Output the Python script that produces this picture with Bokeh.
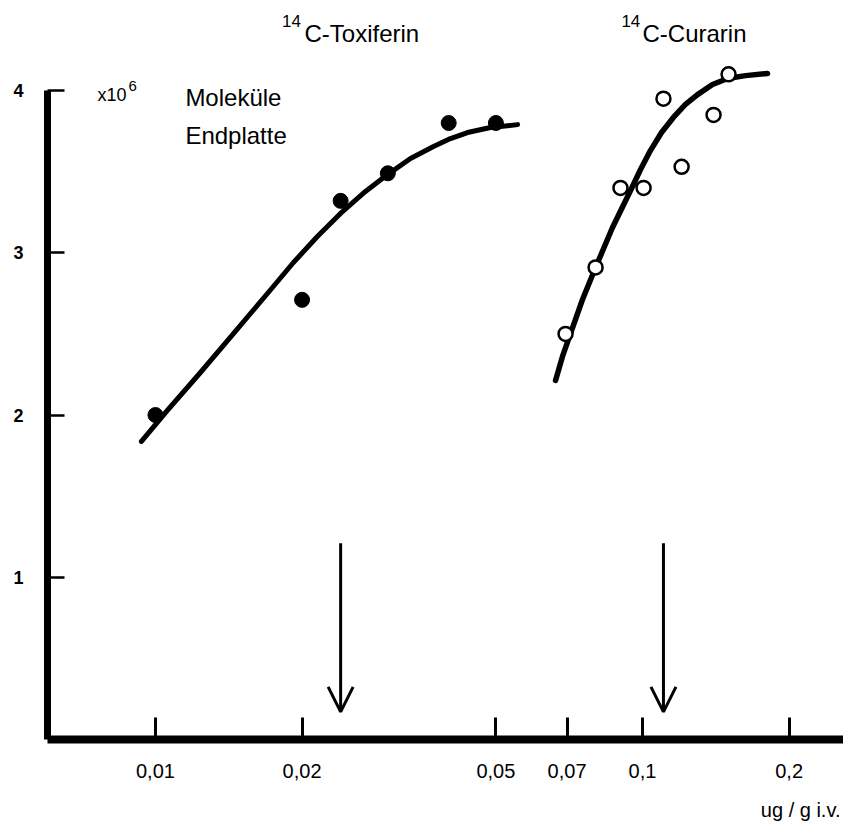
from bokeh.plotting import figure
from bokeh.models import Range1d, FixedTicker, ColumnDataSource, Arrow, OpenHead, Title
from bokeh.embed import file_html
from bokeh.resources import INLINE
from bokeh.core.properties import value

# ---- data ----
tox_dose = [0.01, 0.02, 0.024, 0.03, 0.04, 0.05]
tox_mol = [2.00, 2.71, 3.32, 3.49, 3.80, 3.80]

cur_dose = [0.0695, 0.0801, 0.0901, 0.1005, 0.1104, 0.1203, 0.1399, 0.1502]
cur_mol = [2.50, 2.91, 3.40, 3.40, 3.95, 3.53, 3.85, 4.10]

tox_curve_dose = [0.00936, 0.01058, 0.01237, 0.01446, 0.01698, 0.0192, 0.0215,
                  0.02421, 0.02699, 0.02995, 0.03339, 0.03723, 0.04034,
                  0.04372, 0.04874, 0.0554]
tox_curve_mol = [1.837, 2.028, 2.262, 2.502, 2.749, 2.940, 3.100,
                 3.254, 3.378, 3.482, 3.581, 3.655, 3.704,
                 3.741, 3.772, 3.790]

cur_curve_dose = [0.06628, 0.0685, 0.07114, 0.0753, 0.08009, 0.08677, 0.09449,
                  0.09906, 0.1038, 0.1094, 0.1157, 0.1225, 0.1297, 0.1392,
                  0.1495, 0.1627, 0.1806]
cur_curve_mol = [2.213, 2.361, 2.502, 2.712, 2.909, 3.156, 3.384,
                 3.513, 3.630, 3.741, 3.834, 3.914, 3.975, 4.037,
                 4.074, 4.092, 4.105]

arrow_dose = [0.0240, 0.1104]
arrow_top = [1.21, 1.21]
arrow_tip = [0.17, 0.17]

x_ticks = [0.01, 0.02, 0.05, 0.07, 0.1, 0.2]
x_tick_labels = ["0,01", "0,02", "0,05", "0,07", "0,1", "0,2"]
y_ticks = [1, 2, 3, 4]
x_unit_label = "ug / g i.v."

FONT = "Liberation Sans"

p = figure(width=843, height=836, x_axis_type="log",
           x_range=Range1d(0.006003, 0.2586), y_range=Range1d(0, 4.555),
           output_backend="svg", toolbar_location=None,
           min_border_left=47, min_border_right=0, min_border_top=0,
           min_border_bottom=97)
p.outline_line_color = None
p.grid.visible = False
p.background_fill_color = "white"
p.border_fill_color = "white"

# x axis
xa = p.xaxis[0]
xa.ticker = FixedTicker(ticks=x_ticks)
xa.major_label_overrides = {t: l for t, l in zip(x_ticks, x_tick_labels)}
xa.axis_line_width = 8
xa.axis_line_color = "black"
xa.major_tick_in = 22
xa.major_tick_out = 0
xa.major_tick_line_width = 3
xa.minor_tick_line_color = None
xa.major_label_standoff = 24
xa.major_label_text_font = FONT
xa.major_label_text_font_size = "20px"
xa.major_label_text_color = "black"

# unit label below the axis, right-aligned
p.add_layout(Title(text=x_unit_label, align="right", text_font=FONT,
                   text_font_size="20px", text_font_style="normal",
                   text_color="black", standoff=32, offset=3), "below")

# y axis
ya = p.yaxis[0]
ya.ticker = FixedTicker(ticks=y_ticks)
ya.bounds = (0, 4)
ya.axis_line_width = 7
ya.axis_line_color = "black"
ya.major_tick_in = 17
ya.major_tick_out = 0
ya.major_tick_line_width = 2.5
ya.minor_tick_line_color = None
ya.major_label_standoff = 24
ya.major_label_text_font = FONT
ya.major_label_text_font_size = "18px"
ya.major_label_text_font_style = "bold"
ya.major_label_text_color = "black"

# curves
p.line(tox_curve_dose, tox_curve_mol, line_width=5, line_color="black",
       line_join="round", line_cap="round")
p.line(cur_curve_dose, cur_curve_mol, line_width=5.5, line_color="black",
       line_join="round", line_cap="round")

# points
p.scatter(tox_dose, tox_mol, size=15, marker="circle", fill_color="black",
          line_color="black")
p.scatter(cur_dose, cur_mol, size=14, marker="circle", fill_color="white",
          line_color="black", line_width=2.5)

# arrows
arr_src = ColumnDataSource(dict(x=arrow_dose, y0=arrow_top, y1=arrow_tip))
p.add_layout(Arrow(end=OpenHead(size=25, line_width=3, line_color="black"),
                   x_start="x", y_start="y0", x_end="x", y_end="y1",
                   line_width=3, line_color="black", source=arr_src))

# texts
def txt(x, y, s, size, align="left"):
    p.text(x=[x], y=[y], text=[s], text_font=value(FONT),
           text_font_size=size, text_color="black",
           text_align=align, text_baseline="alphabetic")

txt(0.01820, 4.431, "14", "17px")
txt(0.02023, 4.351, "C-Toxiferin", "24px")
txt(0.0905, 4.431, "14", "17px")
txt(0.1000, 4.351, "C-Curarin", "24px")
txt(0.00760, 3.975, "x10", "18px")
txt(0.00880, 4.030, "6", "15px")
txt(0.01152, 3.957, "Moleküle", "24px")
txt(0.01152, 3.723, "Endplatte", "24px")

open("out.html", "w").write(file_html(p, INLINE))
